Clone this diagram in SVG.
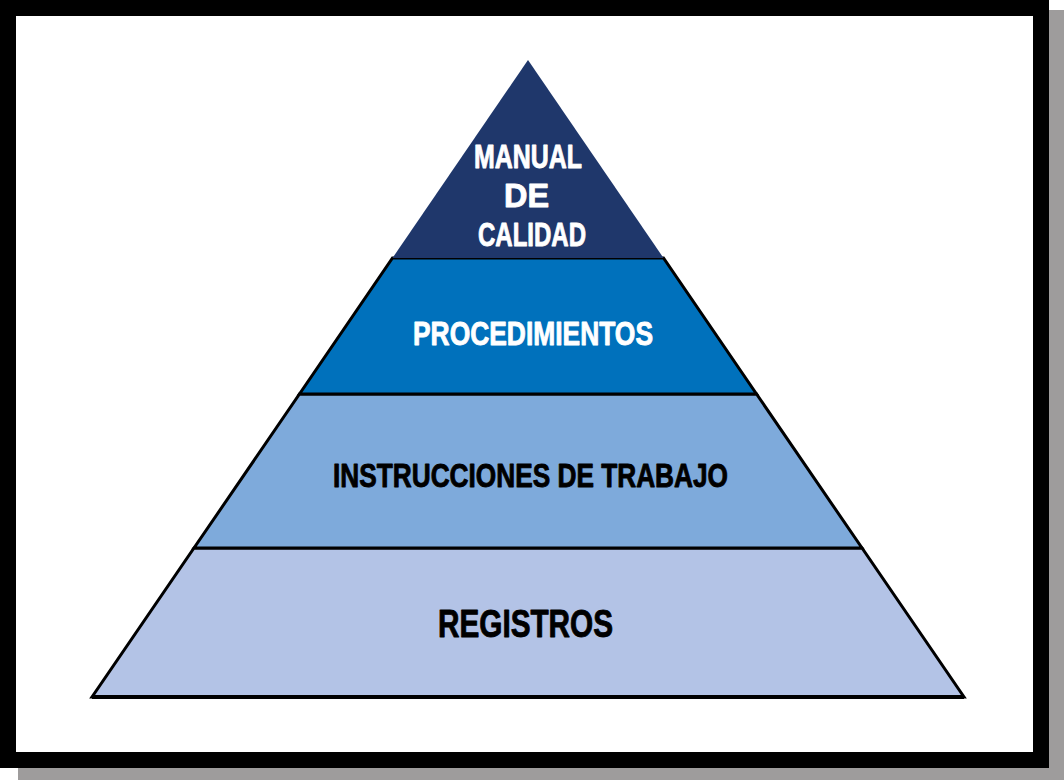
<svg xmlns="http://www.w3.org/2000/svg" width="1064" height="780" viewBox="0 0 1064 780">
<style>
.lbl{font-family:"Liberation Sans",Arial,sans-serif;font-weight:bold;stroke-width:0.9;stroke-linejoin:round;}
.w{fill:#ffffff;stroke:#ffffff;}
.k{fill:#000000;stroke:#000000;}
.band{stroke:#000;stroke-width:3;stroke-linejoin:miter;}
</style>
<g id="frame">
<rect x="18" y="10" width="1046" height="770" fill="#9e9c9c"/>
<rect x="0" y="0" width="1049" height="768" fill="#000"/>
<rect x="16" y="16" width="1017" height="736" fill="#fff"/>
</g>
<g id="registros">
<polygon class="band" points="194,548 862,548 964,697 92,697" fill="#b3c3e6"/>
<line x1="92" y1="697" x2="964" y2="697" stroke="#000" stroke-width="4"/>
<text class="lbl k" x="438" y="637" font-size="38" textLength="175" lengthAdjust="spacingAndGlyphs">REGISTROS</text>
</g>
<g id="instrucciones">
<polygon class="band" points="299.5,394 756.5,394 862,548 194,548" fill="#7eaadb"/>
<text class="lbl k" x="333" y="487" font-size="33" textLength="395" lengthAdjust="spacingAndGlyphs">INSTRUCCIONES DE TRABAJO</text>
</g>
<g id="procedimientos">
<polygon class="band" points="392.5,258 663.5,258 756.5,394 299.5,394" fill="#0071bc"/>
<text class="lbl w" x="413" y="345" font-size="33" textLength="240" lengthAdjust="spacingAndGlyphs">PROCEDIMIENTOS</text>
</g>
<g id="manual">
<polygon points="528,60 663.5,258 392.5,258" fill="#1f376b"/>
<text class="lbl w" x="474" y="168" font-size="33" textLength="108" lengthAdjust="spacingAndGlyphs">MANUAL</text>
<text class="lbl w" x="504" y="207" font-size="33" textLength="45" lengthAdjust="spacingAndGlyphs">DE</text>
<text class="lbl w" x="478" y="246" font-size="33" textLength="108" lengthAdjust="spacingAndGlyphs">CALIDAD</text>
</g>
<g id="connectors"></g>
</svg>
